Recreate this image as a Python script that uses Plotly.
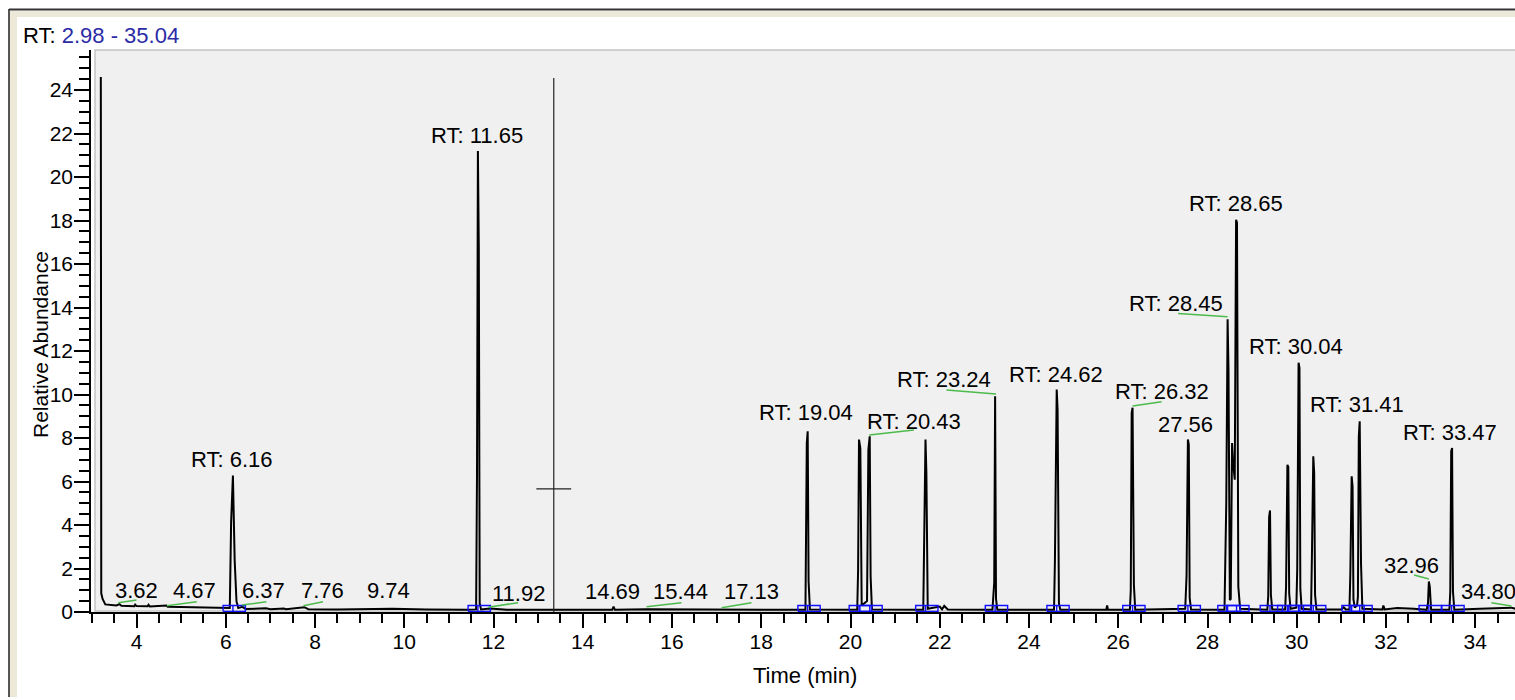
import plotly.graph_objects as go

# ---------------- data ----------------
time_min = [
    3.20, 3.21, 3.24, 3.30, 3.55, 3.62, 3.66, 3.95, 3.97, 4.00, 4.25, 4.27, 4.30, 4.67, 4.70, 5.20, 5.80, 6.09,
    6.12, 6.16, 6.20, 6.24, 6.28,
    6.37, 6.45, 6.90, 7.00, 7.30, 7.35, 7.76, 7.85, 8.50, 9.74, 10.50, 11.40,
    11.61, 11.63, 11.65, 11.67, 11.69, 11.72,
    11.92, 12.30, 14.66, 14.69, 14.72, 15.44, 17.13, 18.99,
    19.02, 19.04, 19.06, 19.09,
    20.15, 20.17, 20.19, 20.22, 20.25, 20.37,
    20.40, 20.43, 20.45, 20.48,
    21.63, 21.65, 21.68, 21.70, 21.73,
    22.00, 22.05, 22.10, 22.18,
    23.18, 23.22, 23.24, 23.26, 23.29,
    24.56, 24.58, 24.62, 24.64, 24.67, 24.70,
    25.73, 25.75, 25.77,
    26.26, 26.28, 26.30, 26.32, 26.35, 26.38,
    27.50, 27.53, 27.56, 27.58, 27.60, 27.63,
    28.38, 28.42, 28.45, 28.47, 28.50, 28.52,
    28.55, 28.57, 28.61, 28.64, 28.66, 28.69, 28.73,
    29.34, 29.36, 29.38, 29.40, 29.42, 29.45,
    29.74, 29.76, 29.79, 29.81, 29.83, 29.86,
    29.99, 30.01, 30.04, 30.06, 30.08, 30.11,
    30.32, 30.34, 30.37, 30.39, 30.41, 30.44,
    31.00, 31.05, 31.10,
    31.18, 31.20, 31.23, 31.25, 31.27, 31.30,
    31.35, 31.37, 31.39, 31.41, 31.44, 31.47,
    31.92, 31.94, 31.97, 32.25, 32.62,
    32.91, 32.94, 32.96, 32.98, 33.01,
    33.42, 33.44, 33.46, 33.48, 33.50, 33.53,
    34.10, 34.80, 34.90,
]
abundance = [
    24.60, 0.86, 0.60, 0.35, 0.30, 0.36, 0.29, 0.27, 0.34, 0.27, 0.26, 0.33, 0.25, 0.30, 0.24, 0.22, 0.20, 0.18,
    4.12, 6.27, 2.35, 0.50, 0.18,
    0.24, 0.14, 0.17, 0.13, 0.16, 0.13, 0.22, 0.13, 0.12, 0.15, 0.11, 0.10,
    0.12, 6.39, 21.20, 16.76, 0.40, 0.12,
    0.16, 0.10, 0.10, 0.25, 0.10, 0.13, 0.13, 0.10,
    7.77, 8.31, 1.40, 0.12,
    0.10, 1.94, 7.93, 7.54, 0.30, 0.50,
    7.47, 8.08, 1.63, 0.12,
    0.10, 3.19, 7.93, 6.39, 0.15,
    0.25, 0.12, 0.28, 0.12,
    0.10, 1.35, 9.92, 0.60, 0.10,
    0.10, 2.32, 10.23, 9.31, 0.40, 0.10,
    0.10, 0.30, 0.10,
    0.10, 1.00, 9.16, 9.39, 1.24, 0.10,
    0.15, 1.66, 7.93, 7.70, 0.65, 0.12,
    0.10, 5.00, 13.46, 11.15, 0.55, 0.60,
    7.77, 6.93, 6.08, 18.03, 17.90, 1.17, 0.15,
    0.10, 0.70, 4.36, 4.67, 0.78, 0.12,
    0.12, 1.17, 6.77, 6.67, 0.86, 0.15,
    0.20, 1.97, 11.46, 11.23, 1.05, 0.15,
    0.12, 2.66, 7.16, 6.39, 0.78, 0.12,
    0.12, 0.22, 0.12,
    0.12, 1.74, 6.24, 5.77, 0.58, 0.20,
    0.30, 0.70, 8.08, 8.77, 2.20, 0.15,
    0.12, 0.30, 0.12, 0.18, 0.15,
    0.10, 0.40, 1.40, 1.17, 0.10,
    0.10, 0.94, 7.39, 7.54, 0.94, 0.10,
    0.15, 0.20, 0.15,
]

# peak annotations
label_text = ["3.62", "4.67", "RT: 6.16", "6.37", "7.76", "9.74", "RT: 11.65", "11.92",
              "14.69", "15.44", "17.13", "RT: 19.04", "RT: 20.43", "RT: 23.24", "RT: 24.62",
              "RT: 26.32", "27.56", "RT: 28.45", "RT: 28.65", "RT: 30.04", "RT: 31.41",
              "32.96", "RT: 33.47", "34.80"]
label_time = [3.99, 5.29, 6.14, 6.84, 8.16, 9.64, 11.63, 12.55,
              14.66, 16.20, 17.78, 19.00, 21.42, 22.09, 24.60,
              26.99, 27.50, 27.29, 28.64, 29.99, 31.36,
              32.57, 33.44, 34.30]
label_level = [0.98, 1.01, 6.99, 1.01, 1.01, 0.97, 21.93, 0.87,
               0.92, 0.92, 0.92, 9.15, 8.78, 10.67, 10.94,
               10.13, 8.63, 14.19, 18.76, 12.20, 9.52,
               2.16, 8.24, 0.93]

# green label leaders
leader_from_time = [3.59, 4.68, 6.36, 7.74, 11.88, 15.43, 17.11, 20.42, 22.15, 26.32, 27.34, 32.63, 34.36]
leader_from_level = [0.43, 0.29, 0.32, 0.29, 0.22, 0.24, 0.20, 8.14, 10.21, 9.47, 13.73, 1.70, 0.43]
leader_to_time = [4.00, 5.35, 6.91, 8.18, 12.55, 16.21, 17.78, 21.42, 23.26, 26.97, 28.45, 32.96, 34.81]
leader_to_level = [0.55, 0.47, 0.47, 0.47, 0.43, 0.43, 0.43, 8.37, 10.02, 9.67, 13.58, 1.52, 0.28]

# integrated peaks (blue baseline boxes)
integrated_peaks = [6.16, 11.65, 19.04, 20.19, 20.43, 21.68, 23.24, 24.62, 26.32, 27.56,
                    28.45, 28.65, 29.40, 29.79, 30.04, 30.37, 31.23, 31.41, 32.96, 33.47]

# cursor marker
cursor_time = 13.35
cursor_top = 24.55
cursor_level = 5.66

x_ticks = [4, 6, 8, 10, 12, 14, 16, 18, 20, 22, 24, 26, 28, 30, 32, 34]
y_ticks = [0, 2, 4, 6, 8, 10, 12, 14, 16, 18, 20, 22, 24]
x_range = [2.98, 34.89]
y_range = [0, 25.84]

# ---------------- styling ----------------
FONT = "Liberation Sans, Arial, sans-serif"
FS = 22
W, H = 1515, 700
ML, MR, MT, MB = 91, 0, 50, 88
PW, PH = W - ML - MR, H - MT - MB


def px(xp):
    return (xp - ML) / PW


def py(yp):
    return (H - MB - yp) / PH


fig = go.Figure()

# main chromatogram
fig.add_trace(go.Scatter(x=time_min, y=abundance, mode="lines",
                         line=dict(color="black", width=2), hoverinfo="skip"))

# cursor cross
CROSS_HALF = 0.39
fig.add_trace(go.Scatter(
    x=[cursor_time, cursor_time, None, cursor_time - CROSS_HALF, cursor_time + CROSS_HALF],
    y=[0, cursor_top, None, cursor_level, cursor_level],
    mode="lines", line=dict(color="#222222", width=1.2), hoverinfo="skip"))

# blue integration boxes
bx, by = [], []
for t in integrated_peaks:
    a, b = t - 0.22, t + 0.28
    bx += [a, a, b, b, a, None, t, t, None]
    by += [0.03, 0.30, 0.30, 0.03, 0.03, None, 0.03, 0.30, None]
fig.add_trace(go.Scatter(x=bx, y=by, mode="lines",
                         line=dict(color="#1010ff", width=1.4), hoverinfo="skip"))

# green leaders
lx, ly = [], []
for a, b, c, d in zip(leader_from_time, leader_from_level, leader_to_time, leader_to_level):
    lx += [a, c, None]
    ly += [b, d, None]
fig.add_trace(go.Scatter(x=lx, y=ly, mode="lines",
                         line=dict(color="#4cbb4c", width=1.5), hoverinfo="skip"))

annotations = []
for txt, t, v in zip(label_text, label_time, label_level):
    annotations.append(dict(x=t, y=v, xref="x", yref="y", text=txt, showarrow=False,
                            xanchor="center", yanchor="middle",
                            font=dict(family=FONT, size=FS, color="black")))

# header, axis titles
annotations.append(dict(x=px(21), y=py(36), xref="paper", yref="paper", xanchor="left", yanchor="middle",
                        text="RT: <span style='color:#2b2ba6'>2.98 - 35.04</span>", showarrow=False,
                        font=dict(family=FONT, size=FS, color="black")))
annotations.append(dict(x=px(40), y=py(345), xref="paper", yref="paper", xanchor="center", yanchor="middle",
                        text="Relative Abundance", textangle=-90, showarrow=False,
                        font=dict(family=FONT, size=21, color="black")))
annotations.append(dict(x=px(805), y=py(675), xref="paper", yref="paper", xanchor="center", yanchor="middle",
                        text="Time (min)", showarrow=False,
                        font=dict(family=FONT, size=FS, color="black")))

shapes = [
    # gray plotting panel
    dict(type="rect", xref="paper", yref="paper", x0=px(95), x1=px(1530), y0=py(611), y1=py(50),
         fillcolor="#f0f0f0", line=dict(color="#c4c4c4", width=1.5), layer="below"),
    # window frame (left strip + top band)
    dict(type="rect", xref="paper", yref="paper", x0=px(10), x1=px(17), y0=py(697), y1=py(11),
         fillcolor="#ece9d8", line=dict(width=0), layer="below"),
    dict(type="rect", xref="paper", yref="paper", x0=px(10), x1=px(1530), y0=py(17), y1=py(11),
         fillcolor="#ece9d8", line=dict(width=0), layer="below"),
    dict(type="line", xref="paper", yref="paper", x0=px(9), x1=px(9), y0=py(697), y1=py(9),
         line=dict(color="#555555", width=2)),
    dict(type="line", xref="paper", yref="paper", x0=px(9), x1=px(1530), y0=py(9.5), y1=py(9.5),
         line=dict(color="#333333", width=2)),
]

axis_common = dict(showgrid=False, zeroline=False, showline=True, linecolor="black",
                   ticks="outside", tickcolor="black", tickwidth=1.5,
                   tickfont=dict(family=FONT, size=21, color="black"), fixedrange=True)

fig.update_layout(
    width=W, height=H, autosize=False,
    margin=dict(l=ML, r=MR, t=MT, b=MB, pad=0),
    paper_bgcolor="white", plot_bgcolor="rgba(0,0,0,0)",
    showlegend=False,
    xaxis=dict(range=x_range, tickmode="array", tickvals=x_ticks, ticktext=[str(v) for v in x_ticks],
               ticklen=14, linewidth=2, ticklabelstandoff=-4,
               minor=dict(tickmode="linear", tick0=0, dtick=0.5, ticklen=9, tickwidth=1.5,
                          tickcolor="black", ticks="outside"),
               **axis_common),
    yaxis=dict(range=y_range, tickmode="array", tickvals=y_ticks, ticktext=[str(v) for v in y_ticks],
               ticklen=15, linewidth=1.5, ticklabelstandoff=-3,
               minor=dict(tickmode="linear", tick0=0, dtick=0.5, ticklen=10, tickwidth=1.5,
                          tickcolor="black", ticks="outside"),
               **axis_common),
    annotations=annotations,
    shapes=shapes,
)

fig.write_html("out.html", config={"displayModeBar": False})
